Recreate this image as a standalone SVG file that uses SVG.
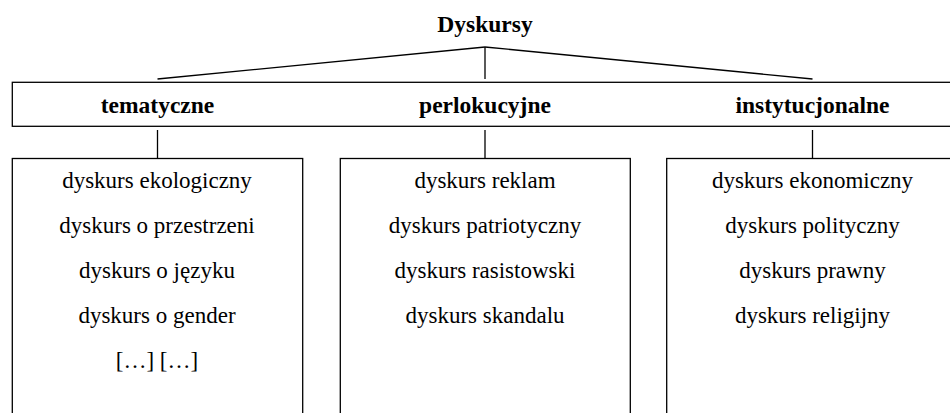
<svg xmlns="http://www.w3.org/2000/svg" width="950" height="413" viewBox="0 0 950 413">
<style>
  .ln { stroke: #000; stroke-width: 1.3; fill: none; }
  .box { stroke: #000; stroke-width: 1.3; fill: #fff; }
  .hd { font-family: 'Liberation Serif', 'Times New Roman', 'DejaVu Serif', serif; font-weight: bold; font-size: 23.5px; fill: #000; text-anchor: middle; }
  .item { font-family: 'Liberation Serif', 'Times New Roman', 'DejaVu Serif', serif; font-weight: normal; font-size: 23px; fill: #000; text-anchor: middle; }
</style>
<rect width="950" height="413" fill="#fff"/>
<g id="root">
  <text class="hd" x="485" y="32">Dyskursy</text>
</g>
<g id="connectors">
  <line class="ln" x1="485" y1="47" x2="157.5" y2="79"/>
  <line class="ln" x1="485" y1="47" x2="812.5" y2="79"/>
  <line class="ln" x1="485" y1="47" x2="485" y2="79"/>
  <line class="ln" x1="157.5" y1="130" x2="157.5" y2="158.5"/>
  <line class="ln" x1="485" y1="130" x2="485" y2="158.5"/>
  <line class="ln" x1="812.5" y1="130" x2="812.5" y2="158.5"/>
</g>
<g id="categories">
  <rect class="box" x="12.3" y="82.3" width="945" height="44"/>
  <text class="hd" x="157.5" y="113">tematyczne</text>
  <text class="hd" x="485" y="113">perlokucyjne</text>
  <text class="hd" x="812.5" y="113">instytucjonalne</text>
</g>
<g id="tematyczne">
  <rect class="box" x="12.3" y="158.5" width="290.4" height="270"/>
  <text class="item" x="157" y="188">dyskurs ekologiczny</text>
  <text class="item" x="157" y="233">dyskurs o przestrzeni</text>
  <text class="item" x="157" y="278">dyskurs o języku</text>
  <text class="item" x="157" y="323">dyskurs o gender</text>
  <text class="item" x="157" y="368">[…] […]</text>
</g>
<g id="perlokucyjne">
  <rect class="box" x="340.3" y="158.5" width="290" height="270"/>
  <text class="item" x="485" y="188">dyskurs reklam</text>
  <text class="item" x="485" y="233">dyskurs patriotyczny</text>
  <text class="item" x="485" y="278">dyskurs rasistowski</text>
  <text class="item" x="485" y="323">dyskurs skandalu</text>
</g>
<g id="instytucjonalne">
  <rect class="box" x="666.7" y="158.5" width="290" height="270"/>
  <text class="item" x="812.5" y="188">dyskurs ekonomiczny</text>
  <text class="item" x="812.5" y="233">dyskurs polityczny</text>
  <text class="item" x="812.5" y="278">dyskurs prawny</text>
  <text class="item" x="812.5" y="323">dyskurs religijny</text>
</g>
</svg>
